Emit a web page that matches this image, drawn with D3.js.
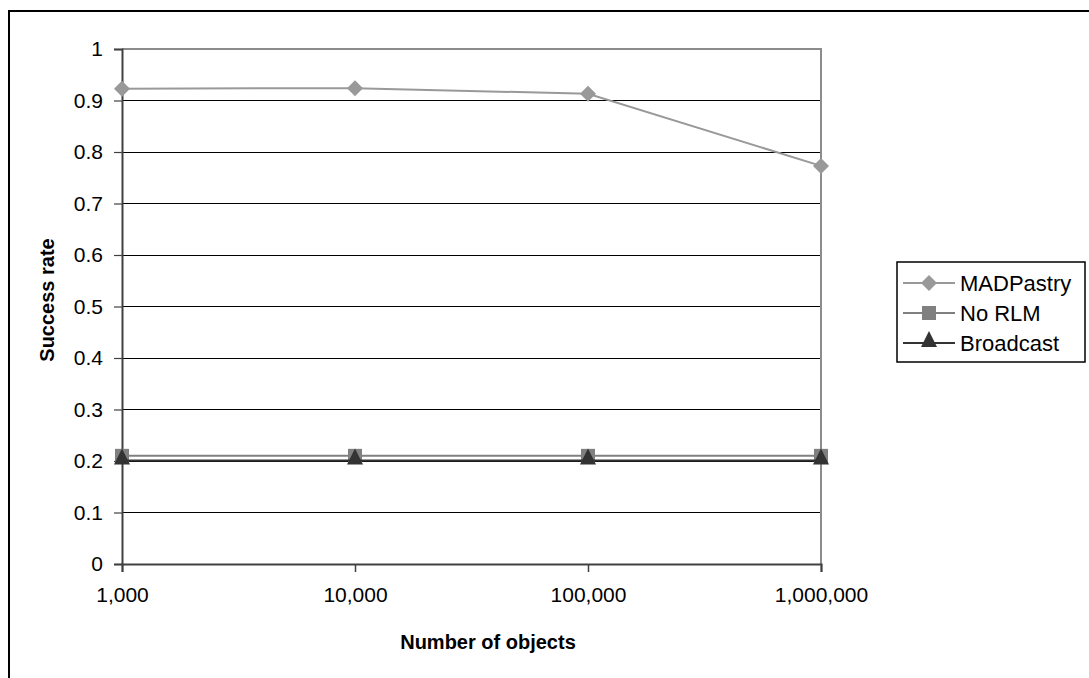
<!DOCTYPE html>
<html>
<head>
<meta charset="utf-8">
<script src="https://cdn.jsdelivr.net/npm/d3@7"></script>
<style>
  html, body { margin: 0; padding: 0; background: #fff; }
  svg { display: block; font-family: "Liberation Sans", Arial, sans-serif; }
</style>
</head>
<body>
<svg id="chart" width="1089" height="678"></svg>
<script>
// Number of objects stored in the network
const objectCounts = [1000, 10000, 100000, 1000000];
const xTickLabels = ["1,000", "10,000", "100,000", "1,000,000"];
const yTicks = [0, 0.1, 0.2, 0.3, 0.4, 0.5, 0.6, 0.7, 0.8, 0.9, 1];

// Success rate per scheme
const seriesNames = ["MADPastry", "No RLM", "Broadcast"];
const madpastry = [0.923, 0.924, 0.913, 0.773];
const noRlm = [0.21, 0.21, 0.21, 0.21];
const broadcast = [0.201, 0.201, 0.201, 0.201];

// Marker shapes (path strings centred on the data point)
const markerPaths = {
  diamond: "M0,-8L8,0L0,8L-8,0Z",
  square: "M-7,-7H7V7H-7Z",
  triangle: "M0,-12L8,4H-8Z"
};

const series = [
  { name: seriesNames[0], values: madpastry, color: "#999999", marker: markerPaths.diamond },
  { name: seriesNames[1], values: noRlm, color: "#808080", marker: markerPaths.square },
  { name: seriesNames[2], values: broadcast, color: "#333333", marker: markerPaths.triangle }
];

const svg = d3.select("#chart");

// Outer frame
svg.append("rect")
  .attr("x", 9).attr("y", 11).attr("width", 1100).attr("height", 700)
  .attr("fill", "none").attr("stroke", "#000").attr("stroke-width", 2);

const plot = { left: 122, right: 821, top: 49, bottom: 564 };

const x = d3.scaleLog().domain([1000, 1000000]).range([plot.left, plot.right]);
const y = d3.scaleLinear().domain([0, 1]).range([plot.bottom, plot.top]);

// Horizontal gridlines
svg.append("g")
  .selectAll("line")
  .data(yTicks.filter(t => t > 0 && t < 1))
  .join("line")
  .attr("x1", plot.left).attr("x2", plot.right)
  .attr("y1", d => y(d)).attr("y2", d => y(d))
  .attr("stroke", "#000").attr("stroke-width", 1).attr("shape-rendering", "crispEdges");

// Plot area border (top and right)
svg.append("path")
  .attr("d", `M${plot.left},${y(1)}H${plot.right}V${plot.bottom}`)
  .attr("fill", "none").attr("stroke", "#8c8c8c").attr("stroke-width", 2);

// Y axis
const yAxis = d3.axisLeft(y).tickValues(yTicks).tickSize(8).tickPadding(11)
  .tickFormat(d => d3.format("")(+d.toFixed(1)));
const gy = svg.append("g").attr("transform", `translate(${plot.left},0)`).call(yAxis);
gy.select(".domain").attr("stroke", "#404040").attr("stroke-width", 2);
gy.selectAll(".tick line").attr("stroke", "#404040").attr("stroke-width", 1.2);
gy.selectAll(".tick text").attr("font-size", 21).attr("fill", "#000")
  .attr("font-family", "'Liberation Sans', Arial, sans-serif");

// X axis
const xAxis = d3.axisBottom(x).tickValues(objectCounts).tickSize(8).tickPadding(15)
  .tickFormat((d, i) => xTickLabels[i]);
const gx = svg.append("g").attr("transform", `translate(0,${plot.bottom})`).call(xAxis);
gx.select(".domain").attr("stroke", "#404040").attr("stroke-width", 2);
gx.selectAll(".tick line").attr("stroke", "#404040").attr("stroke-width", 1.5);
gx.selectAll(".tick text").attr("font-size", 21).attr("fill", "#000")
  .attr("font-family", "'Liberation Sans', Arial, sans-serif");

// Axis titles
svg.append("text")
  .attr("x", 488).attr("y", 649)
  .attr("text-anchor", "middle").attr("font-size", 20).attr("font-weight", "bold")
  .text("Number of objects");
svg.append("text")
  .attr("transform", `translate(54,300) rotate(-90)`)
  .attr("text-anchor", "middle").attr("font-size", 20).attr("font-weight", "bold")
  .text("Success rate");

// Series lines and markers
const line = d3.line().x((d, i) => x(objectCounts[i])).y(d => y(d));
series.forEach(s => {
  svg.append("path")
    .attr("d", line(s.values))
    .attr("fill", "none").attr("stroke", s.color).attr("stroke-width", 2);
  svg.append("g")
    .selectAll("path")
    .data(s.values)
    .join("path")
    .attr("transform", (d, i) => `translate(${x(objectCounts[i])},${y(d)})`)
    .attr("d", s.marker)
    .attr("fill", s.color);
});

// Legend
const legend = svg.append("g").attr("transform", "translate(897,262)");
legend.append("rect")
  .attr("width", 188).attr("height", 100)
  .attr("fill", "#fff").attr("stroke", "#000").attr("stroke-width", 1.5);
series.forEach((s, i) => {
  const ly = 21 + i * 30;
  legend.append("line")
    .attr("x1", 6).attr("x2", 58).attr("y1", ly).attr("y2", ly)
    .attr("stroke", s.color).attr("stroke-width", 2);
  legend.append("path")
    .attr("transform", `translate(32,${ly})`)
    .attr("d", s.marker)
    .attr("fill", s.color);
  legend.append("text")
    .attr("x", 63).attr("y", ly + 8)
    .attr("font-size", 22).attr("fill", "#000")
    .text(s.name);
});
</script>
</body>
</html>
